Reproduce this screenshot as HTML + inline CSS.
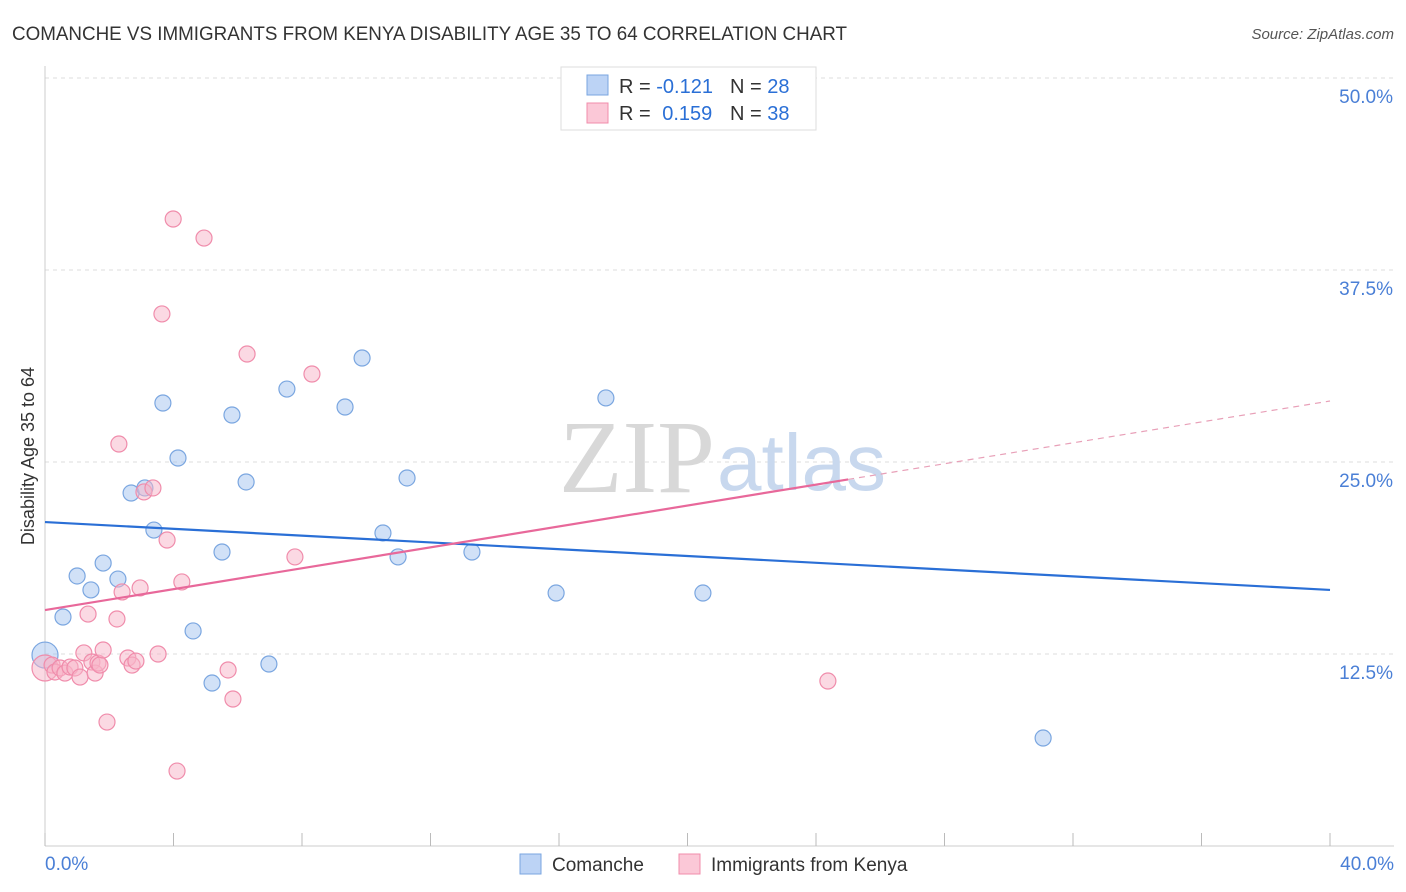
<!DOCTYPE html>
<html><head><meta charset="utf-8"><style>
body{margin:0;background:#fff;font-family:"Liberation Sans",sans-serif;}
svg{display:block}
</style></head><body>
<svg id="chart" width="1406" height="892" xmlns="http://www.w3.org/2000/svg">
<text x="12" y="40" font-size="19" fill="#333" textLength="835" lengthAdjust="spacingAndGlyphs">COMANCHE VS IMMIGRANTS FROM KENYA DISABILITY AGE 35 TO 64 CORRELATION CHART</text>
<text x="1394" y="39" font-size="15" fill="#555" font-style="italic" text-anchor="end">Source: ZipAtlas.com</text>
<text x="34" y="456" font-size="18" fill="#333" text-anchor="middle" transform="rotate(-90 34 456)">Disability Age 35 to 64</text>
<g id="grid"></g>
<g id="yticks"></g>
<line x1="45" y1="66" x2="45" y2="846" stroke="#ccc"/>
<line x1="45" y1="846" x2="1394" y2="846" stroke="#ccc"/>
<g id="xticks"></g>
<text x="45" y="870" font-size="19" fill="#4a7fd6">0.0%</text>
<text x="1394" y="870" font-size="19" fill="#4a7fd6" text-anchor="end">40.0%</text>
<text x="715" y="492" font-size="104" fill="#d8d8d8" text-anchor="end" font-family="Liberation Serif,serif">ZIP</text>
<text x="717" y="490" font-size="80" fill="#c8d8ee">atlas</text>
<g id="pts"></g>
<g id="lines"></g>
<g>
<rect x="561" y="67" width="255" height="63" fill="#fff" stroke="#ddd"/>
<rect x="587" y="75" width="21" height="20" fill="#bcd3f5" stroke="#7aa6e0"/>
<rect x="587" y="103" width="21" height="20" fill="#fbc8d7" stroke="#f08cab"/>
<text x="619" y="93" font-size="20" fill="#333">R = <tspan fill="#2a6fd6">-0.121</tspan></text>
<text x="730" y="93" font-size="20" fill="#333">N = <tspan fill="#2a6fd6">28</tspan></text>
<text x="619" y="120" font-size="20" fill="#333">R = <tspan fill="#2a6fd6" dx="6">0.159</tspan></text>
<text x="730" y="120" font-size="20" fill="#333">N = <tspan fill="#2a6fd6">38</tspan></text>
</g>
<g>
<rect x="520" y="854" width="21" height="20" fill="#bcd3f5" stroke="#7aa6e0"/>
<text x="552" y="871" font-size="19" fill="#333">Comanche</text>
<rect x="679" y="854" width="21" height="20" fill="#fbc8d7" stroke="#f08cab"/>
<text x="711" y="871" font-size="19" fill="#333">Immigrants from Kenya</text>
</g>
</svg>
<script>
const yTicks=[12.5,25,37.5,50];
const yTickLabels=["12.5%","25.0%","37.5%","50.0%"];
const xTickVals=[0,4,8,12,16,20,24,28,32,36,40];
const blueX=[0,0.56,1.0,1.43,1.81,2.27,2.68,3.11,3.39,3.67,4.14,4.61,5.2,5.51,5.82,6.26,6.97,7.53,9.34,9.87,10.52,10.99,11.27,13.29,15.91,17.46,20.48,31.07];
const blueY=[12.43,14.91,17.58,16.67,18.42,17.38,22.98,23.31,20.57,28.84,25.26,14.0,10.61,19.14,28.06,23.70,11.85,29.75,28.58,31.77,20.38,18.82,23.96,19.14,16.47,29.17,16.47,7.03];
const pinkX=[0,0.22,0.31,0.47,0.62,0.78,0.93,1.09,1.21,1.34,1.46,1.56,1.65,1.71,1.81,1.93,2.24,2.4,2.3,2.58,2.71,2.83,2.96,3.08,3.36,3.52,3.64,3.8,3.99,4.11,4.26,4.95,5.7,5.85,6.29,7.78,8.31,24.37];
const pinkY=[11.59,11.78,11.33,11.59,11.26,11.65,11.59,11.0,12.57,15.1,11.98,11.26,11.91,11.78,12.76,8.07,14.78,16.54,26.17,12.24,11.78,12.04,16.8,23.05,23.31,12.5,34.64,19.92,40.82,4.88,17.19,39.58,11.46,9.57,32.03,18.82,30.73,10.74];
const blueTrend=[21.09,16.67];
const pinkTrend=[15.36,28.97];
const pinkSolidEnd=25;
const NS="http://www.w3.org/2000/svg";
const sx=v=>45+v*32.125, sy=v=>846-v*15.36;
function mk(tag,attrs,parent){const e=document.createElementNS(NS,tag);for(const k in attrs)e.setAttribute(k,attrs[k]);parent.appendChild(e);return e;}
const grid=document.getElementById('grid'),yt=document.getElementById('yticks'),xt=document.getElementById('xticks');
yTicks.forEach((v,i)=>{
 const l=mk('line',{x1:45,x2:1394,y1:sy(v),y2:sy(v),stroke:'#ddd','stroke-dasharray':'4 4'},grid);
 
 
 const t=mk('text',{x:1393,y:sy(v)+25,'font-size':19,fill:'#4a7fd6','text-anchor':'end'},yt);
 t.textContent=yTickLabels[i];
 
 
});
xTickVals.forEach(v=>{
 const l=mk('line',{x1:sx(v),x2:sx(v),y1:833,y2:846,stroke:'#bbb'},xt);
 
 
});
const pts=document.getElementById('pts');
function drawPts(xs,ys,fill,stroke,name){
 xs.forEach((x,i)=>{
  const r=(x===0)?13:8;
  const c=mk('circle',{cx:sx(x),cy:sy(ys[i]),r:r,fill:fill,stroke:stroke,'stroke-width':1.2},pts);
  
  
 });
}
drawPts(blueX,blueY,'rgba(164,196,240,0.5)','#7aa6e0','comanche-point');
drawPts(pinkX,pinkY,'rgba(248,180,200,0.5)','#f08cab','kenya-point');
const lines=document.getElementById('lines');
const bl=mk('line',{x1:sx(0),y1:sy(blueTrend[0]),x2:sx(40),y2:sy(blueTrend[1]),stroke:'#2a6fd6','stroke-width':2.2},lines);


const pe=pinkTrend[0]+(pinkTrend[1]-pinkTrend[0])*pinkSolidEnd/40;
const pl=mk('line',{x1:sx(0),y1:sy(pinkTrend[0]),x2:sx(pinkSolidEnd),y2:sy(pe),stroke:'#e8689a','stroke-width':2.2},lines);


const pd=mk('line',{x1:sx(pinkSolidEnd),y1:sy(pe),x2:sx(40),y2:sy(pinkTrend[1]),stroke:'#e8a0b8','stroke-width':1.2,'stroke-dasharray':'6 5'},lines);


</script>
</body></html>
